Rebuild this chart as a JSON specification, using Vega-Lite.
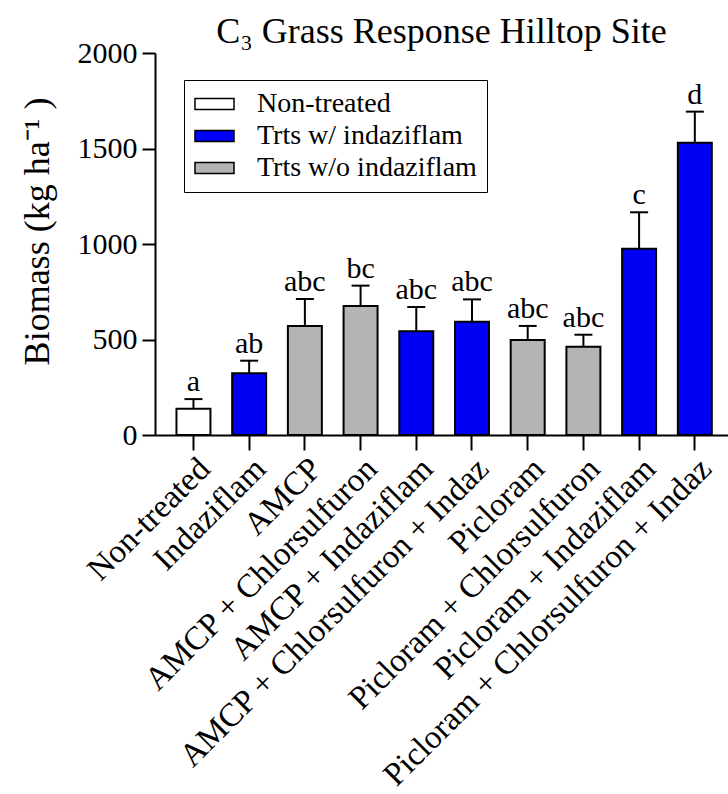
{
  "$schema": "https://vega.github.io/schema/vega-lite/v6.json",
  "autosize": "none",
  "width": 573,
  "height": 382,
  "padding": {"left": 155, "top": 53, "right": 0, "bottom": 359},
  "background": "white",
  "title": {
    "text": "C₃ Grass Response Hilltop Site",
    "font": "Liberation Serif",
    "fontSize": 36,
    "fontWeight": "normal",
    "color": "black",
    "anchor": "middle",
    "frame": "group",
    "baseline": "alphabetic",
    "offset": 6,
    "dy": 47
  },
  "config": {
    "view": {"stroke": null},
    "font": "Liberation Serif",
    "axis": {
      "labelFont": "Liberation Serif",
      "titleFont": "Liberation Serif",
      "labelColor": "black",
      "titleColor": "black",
      "domainColor": "black",
      "tickColor": "black",
      "domainWidth": 2,
      "tickWidth": 2,
      "grid": false,
      "titleFontWeight": "normal"
    },
    "legend": {
      "labelFont": "Liberation Serif",
      "strokeColor": "black",
      "fillColor": "white",
      "padding": 10
    }
  },
  "data": {
    "values": [
      {"treatment": "Non-treated", "group": "Non-treated", "mean": 138, "upper": 188, "letter": "a"},
      {"treatment": "Indaziflam", "group": "Trts w/ indaziflam", "mean": 323, "upper": 389, "letter": "ab"},
      {"treatment": "AMCP", "group": "Trts w/o indaziflam", "mean": 571, "upper": 712, "letter": "abc"},
      {"treatment": "AMCP + Chlorsulfuron", "group": "Trts w/o indaziflam", "mean": 675, "upper": 782, "letter": "bc"},
      {"treatment": "AMCP + Indaziflam", "group": "Trts w/ indaziflam", "mean": 543, "upper": 670, "letter": "abc"},
      {"treatment": "AMCP + Chlorsulfuron + Indaz", "group": "Trts w/ indaziflam", "mean": 593, "upper": 710, "letter": "abc"},
      {"treatment": "Picloram", "group": "Trts w/o indaziflam", "mean": 497, "upper": 571, "letter": "abc"},
      {"treatment": "Picloram + Chlorsulfuron", "group": "Trts w/o indaziflam", "mean": 462, "upper": 525, "letter": "abc"},
      {"treatment": "Picloram + Indaziflam", "group": "Trts w/ indaziflam", "mean": 975, "upper": 1166, "letter": "c"},
      {"treatment": "Picloram + Chlorsulfuron + Indaz", "group": "Trts w/ indaziflam", "mean": 1530, "upper": 1693, "letter": "d"}
    ]
  },
  "encoding": {
    "x": {
      "field": "treatment",
      "type": "nominal",
      "sort": null,
      "scale": {"paddingInner": 0.39, "paddingOuter": 0.338, "align": 0.57},
      "axis": {
        "title": null,
        "labelAngle": -45,
        "labelFontSize": 33,
        "tickSize": 15,
        "labelPadding": 2,
        "labelLimit": 1000
      }
    }
  },
  "layer": [
    {
      "mark": {"type": "bar", "stroke": "black", "strokeWidth": 2},
      "encoding": {
        "y": {
          "field": "mean",
          "type": "quantitative",
          "scale": {"domain": [0, 2000], "nice": false},
          "axis": {
            "title": "Biomass (kg ha⁻¹ )",
            "values": [0, 500, 1000, 1500, 2000],
            "format": "d",
            "labelFontSize": 30,
            "labelPadding": 5,
            "tickSize": 13,
            "titleFontSize": 36,
            "titleX": -107,
            "titleY": 178,
            "titleAngle": -90,
            "titleAlign": "center",
            "titleBaseline": "alphabetic"
          }
        },
        "fill": {
          "field": "group",
          "type": "nominal",
          "scale": {
            "domain": ["Non-treated", "Trts w/ indaziflam", "Trts w/o indaziflam"],
            "range": ["#FFFFFF", "#0000F5", "#B4B4B4"]
          },
          "legend": {
            "title": null,
            "orient": "none",
            "legendX": 29,
            "legendY": 27,
            "labelFontSize": 28,
            "labelColor": "black",
            "labelLimit": 500,
            "symbolType": "M-1,-0.43H2V0.43H-1Z",
            "symbolSize": 676,
            "symbolStrokeColor": "black",
            "symbolStrokeWidth": 1.5,
            "symbolOpacity": 1,
            "rowPadding": 4,
            "labelOffset": 35
          }
        }
      }
    },
    {
      "mark": {"type": "rule", "color": "black", "strokeWidth": 2},
      "encoding": {
        "y": {"field": "mean", "type": "quantitative"},
        "y2": {"field": "upper"}
      }
    },
    {
      "mark": {"type": "tick", "color": "black", "thickness": 2, "size": 18, "opacity": 1},
      "encoding": {
        "y": {"field": "upper", "type": "quantitative"}
      }
    },
    {
      "mark": {"type": "text", "font": "Liberation Serif", "fontSize": 30, "color": "black", "baseline": "alphabetic", "dy": -8},
      "encoding": {
        "y": {"field": "upper", "type": "quantitative"},
        "text": {"field": "letter"}
      }
    }
  ]
}
